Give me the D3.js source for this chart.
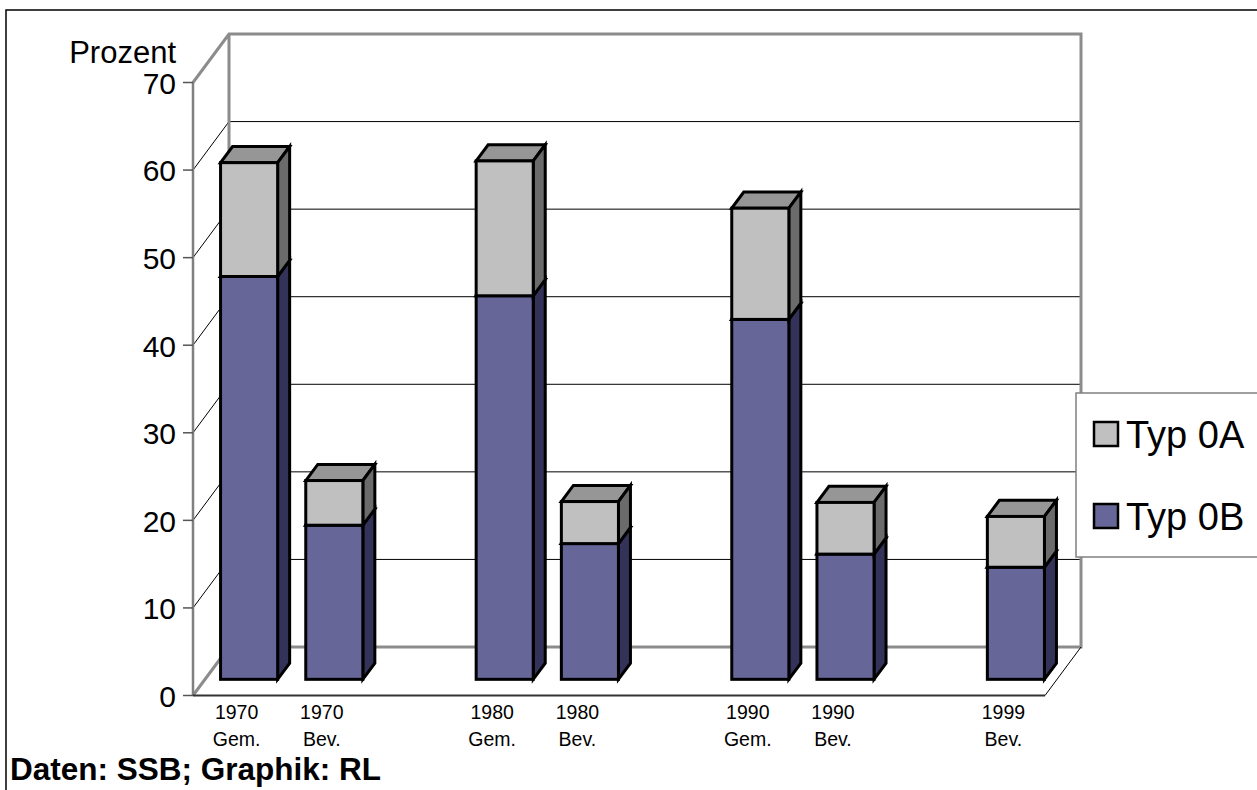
<!DOCTYPE html>
<html>
<head>
<meta charset="utf-8">
<script src="https://cdn.jsdelivr.net/npm/d3@7"></script>
<style>
  html, body { margin: 0; padding: 0; background: #fff; }
  svg { display: block; font-family: "Liberation Sans", Arial, sans-serif; }
</style>
</head>
<body>
<svg id="chart" width="1257" height="790"></svg>
<script>
// Category slots (empty slots leave gaps between decades)
const years  = ["1970", "1970", "", "1980", "1980", "", "1990", "1990", "", "1999"];
const groups = ["Gem.", "Bev.", "", "Gem.", "Bev.", "", "Gem.", "Bev.", "", "Bev."];

// Stacked series, in percent
const typ0B = [46, 17.6, null, 43.8, 15.5, null, 41.1, 14.3, null, 12.8];
const typ0A = [13, 5.1, null, 15.4, 4.8, null, 12.7, 5.9, null, 5.8];

const yTicks = [0, 10, 20, 30, 40, 50, 60, 70];
const seriesNames = ["Typ 0A", "Typ 0B"];

const svg = d3.select("#chart");

// Front plane of the 3D box and its depth offset
const left = 193, right = 1045;
const depthX = 36, depthY = -48.5;

const y = d3.scaleLinear().domain([0, 70]).range([695.5, 82.5]);
const x = d3.scaleBand()
  .domain(d3.range(years.length))
  .range([left, right])
  .paddingInner(0.33)
  .paddingOuter(0.165);

const colors = {
  "Typ 0B": { front: "#666699", side: "#33335a", top: "#4d4d80" },
  "Typ 0A": { front: "#c0c0c0", side: "#6b6b6b", top: "#969696" }
};

// Outer frame
svg.append("rect")
  .attr("x", 6).attr("y", 10).attr("width", 1400).attr("height", 900)
  .attr("fill", "none").attr("stroke", "#000").attr("stroke-width", 1.5);

const walls = svg.append("g");
const y0 = y(0), yTop = y(70);

// Back wall gridlines
walls.selectAll("line.grid")
  .data(yTicks.filter(t => t > 0 && t < 70))
  .join("line")
  .attr("class", "grid")
  .attr("x1", left + depthX).attr("x2", right + depthX)
  .attr("y1", d => y(d) + depthY).attr("y2", d => y(d) + depthY)
  .attr("stroke", "#000").attr("stroke-width", 1);

// Side wall diagonals
walls.selectAll("line.diag")
  .data(yTicks.filter(t => t > 0 && t < 70))
  .join("line")
  .attr("class", "diag")
  .attr("x1", left).attr("x2", left + depthX)
  .attr("y1", d => y(d)).attr("y2", d => y(d) + depthY)
  .attr("stroke", "#000").attr("stroke-width", 1);

// Wall outline (gray)
walls.append("path")
  .attr("d", `M${left},${yTop} L${left + depthX},${yTop + depthY} L${right + depthX},${yTop + depthY} L${right + depthX},${y0 + depthY} L${left + depthX},${y0 + depthY} M${left + depthX},${yTop + depthY} L${left + depthX},${y0 + depthY} M${left},${y0} L${left + depthX},${y0 + depthY}`)
  .attr("fill", "none").attr("stroke", "#8c8c8c").attr("stroke-width", 3)
  .attr("stroke-linejoin", "miter");

// Front value axis
walls.append("line")
  .attr("x1", left).attr("x2", left).attr("y1", yTop).attr("y2", y0)
  .attr("stroke", "#808080").attr("stroke-width", 2.5);

// Floor front edge and right diagonal
walls.append("line")
  .attr("x1", left).attr("x2", right).attr("y1", y0).attr("y2", y0)
  .attr("stroke", "#333").attr("stroke-width", 2);
walls.append("line")
  .attr("x1", right).attr("x2", right + depthX).attr("y1", y0).attr("y2", y0 + depthY)
  .attr("stroke", "#000").attr("stroke-width", 1);

// Tick marks and labels
const ticks = svg.append("g");
ticks.selectAll("line")
  .data(yTicks)
  .join("line")
  .attr("x1", left - 10).attr("x2", left)
  .attr("y1", d => y(d)).attr("y2", d => y(d))
  .attr("stroke", "#555").attr("stroke-width", 1.5);
ticks.selectAll("text")
  .data(yTicks)
  .join("text")
  .attr("x", 176).attr("y", d => y(d))
  .attr("dy", "0.38em")
  .attr("text-anchor", "end")
  .attr("font-size", 30)
  .attr("fill", "#000")
  .text(d => d);

svg.append("text")
  .attr("x", 176).attr("y", 63)
  .attr("text-anchor", "end")
  .attr("font-size", 31)
  .text("Prozent");

// Bars sit in the middle third of the depth
const fX = depthX / 3, fY = depthY / 3;
const bX = depthX * 2 / 3, bY = depthY * 2 / 3;

const segments = [];
years.forEach((yr, i) => {
  if (typ0B[i] == null) return;
  segments.push({ i, name: "Typ 0B", v0: 0, v1: typ0B[i] });
  segments.push({ i, name: "Typ 0A", v0: typ0B[i], v1: typ0B[i] + typ0A[i] });
});

const bars = svg.append("g")
  .attr("stroke", "#000").attr("stroke-width", 3).attr("stroke-linejoin", "miter");

segments.forEach(s => {
  const xl = x(s.i) + fX + 1.5, xr = x(s.i) + x.bandwidth() + fX + 1.5;
  const yb = y(s.v0) + fY, yt = y(s.v1) + fY;
  const ddx = bX - fX, ddy = bY - fY;
  const c = colors[s.name];
  // top face
  bars.append("path")
    .attr("d", `M${xl},${yt} L${xl + ddx},${yt + ddy} L${xr + ddx},${yt + ddy} L${xr},${yt} Z`)
    .attr("fill", c.top);
  // side face
  bars.append("path")
    .attr("d", `M${xr},${yb} L${xr},${yt} L${xr + ddx},${yt + ddy} L${xr + ddx},${yb + ddy} Z`)
    .attr("fill", c.side);
  // front face
  bars.append("rect")
    .attr("x", xl).attr("y", yt)
    .attr("width", xr - xl).attr("height", yb - yt)
    .attr("fill", c.front);
});

// Category labels
const cat = svg.append("g").attr("font-size", 19.5).attr("text-anchor", "middle");
years.forEach((yr, i) => {
  if (!yr) return;
  const cx = x(i) + x.bandwidth() / 2 + 1;
  cat.append("text").attr("x", cx).attr("y", 719).text(yr);
  cat.append("text").attr("x", cx).attr("y", 746).text(groups[i]);
});

// Legend
const legend = svg.append("g");
legend.append("rect")
  .attr("x", 1076).attr("y", 393).attr("width", 300).attr("height", 164)
  .attr("fill", "#fff").attr("stroke", "#808080").attr("stroke-width", 1.5);
seriesNames.forEach((name, k) => {
  const top = 422 + k * 82;
  legend.append("rect")
    .attr("x", 1094).attr("y", top).attr("width", 24).attr("height", 24)
    .attr("fill", colors[name].front).attr("stroke", "#000").attr("stroke-width", 2.5);
  legend.append("text")
    .attr("x", 1126).attr("y", top + 26)
    .attr("font-size", 38)
    .text(name);
});

// Source note
svg.append("text")
  .attr("x", 10).attr("y", 780)
  .attr("font-size", 31.5).attr("font-weight", "bold")
  .text("Daten: SSB; Graphik: RL");
</script>
</body>
</html>
